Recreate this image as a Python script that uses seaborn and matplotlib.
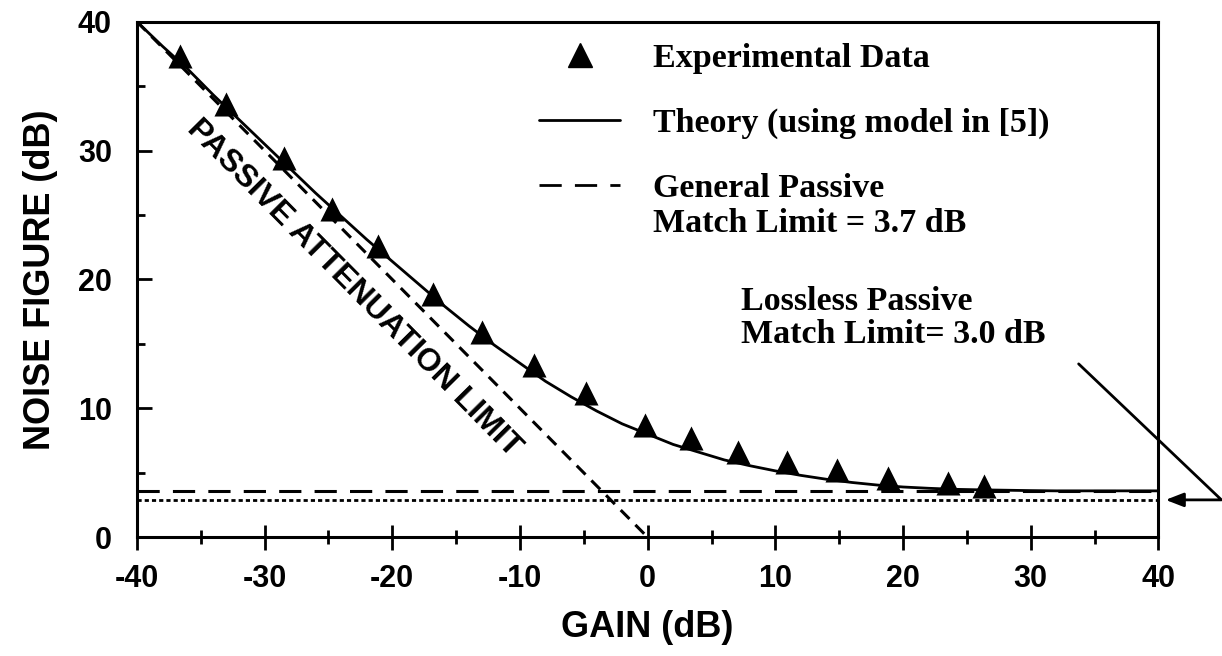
import numpy as np
import pandas as pd
import seaborn as sns
import matplotlib.pyplot as plt
from matplotlib.lines import Line2D
from matplotlib.font_manager import FontProperties

# experimental points (gain dB, noise figure dB)
exp_gain = [-36.6, -33.0, -28.5, -24.7, -21.1, -16.8, -13.0, -8.9, -4.8, -0.2,
            3.4, 7.1, 10.9, 14.8, 18.8, 23.5, 26.3]
exp_nf = [37.3, 33.6, 29.4, 25.5, 22.6, 18.9, 15.9, 13.4, 11.2, 8.7,
          7.7, 6.6, 5.8, 5.2, 4.6, 4.2, 4.0]

# theory curve, read every 2 dB
theory_gain = [-40, -38, -36, -34, -32, -30, -28, -26, -24, -22, -20, -18, -16, -14,
               -12, -10, -8, -6, -4, -2, 0, 2, 4, 6, 8, 10, 12, 14, 16, 18, 20,
               22, 24, 26, 28, 30, 32, 34, 36, 38, 40]
theory_nf = [40.0, 38.1, 36.3, 34.3, 32.4, 30.5, 28.6, 26.7, 24.9, 23.1, 21.4, 19.7,
             18.0, 16.4, 14.9, 13.5, 12.1, 10.9, 9.8, 8.8, 8.0, 7.2, 6.6, 6.0, 5.55,
             5.15, 4.8, 4.5, 4.25, 4.05, 3.9, 3.8, 3.72, 3.68, 3.65, 3.62, 3.6, 3.6,
             3.6, 3.6, 3.6]

# passive attenuation limit (NF = -gain)
atten_gain = [-40, 0]
atten_nf = [40, 0]

general_limit = 3.6
lossless_limit = 2.9

sns.set_theme(style="ticks")
plt.rcParams['font.family'] = ['Liberation Sans', 'DejaVu Sans']
plt.rcParams['lines.scale_dashes'] = False
plt.rcParams['axes.unicode_minus'] = False
for k in ['text.color', 'axes.labelcolor', 'xtick.color', 'ytick.color', 'axes.edgecolor']:
    plt.rcParams[k] = 'black'

serif = FontProperties(family='Liberation Serif', weight='bold', size=24.5)

fig, ax = plt.subplots(figsize=(12.22, 6.56), dpi=100)
fig.subplots_adjust(left=0.112, right=0.948, bottom=0.181, top=0.967)

theory = pd.DataFrame({'gain': theory_gain, 'nf': theory_nf})
sns.lineplot(data=theory, x='gain', y='nf', color='black', lw=2.0, ax=ax)
sns.lineplot(x=atten_gain, y=atten_nf, color='black', lw=2.2, ax=ax)
ax.lines[-1].set_dashes((9, 6))

ax.axhline(general_limit, color='black', lw=2.2, dashes=(16, 9.5))
ax.axhline(lossless_limit, color='black', lw=2.0, dashes=(3, 2.2))

sns.scatterplot(x=exp_gain, y=exp_nf, marker='^', s=300, color='black',
                edgecolor='black', linewidth=0, zorder=4, ax=ax)

ax.set_xlim(-40, 40)
ax.set_ylim(0, 40)
ax.set_xticks(range(-40, 41, 10))
ax.set_xticks(range(-35, 40, 10), minor=True)
ax.set_yticks(range(0, 41, 10))
ax.set_yticks(range(5, 40, 10), minor=True)

for s in ax.spines.values():
    s.set_visible(True)
    s.set_linewidth(2.2)
    s.set_color('black')

ax.tick_params(axis='x', which='major', direction='inout', length=18, width=2.0,
               pad=10, labelsize=22)
ax.tick_params(axis='x', which='minor', direction='inout', length=9.5, width=2.0)
ax.tick_params(axis='y', which='major', direction='in', length=11, width=2.0,
               pad=18, labelsize=22)
ax.tick_params(axis='y', which='minor', direction='in', length=5.5, width=2.0)
for lab in ax.get_xticklabels() + ax.get_yticklabels():
    lab.set_fontweight('bold')

ax.set_xlabel('GAIN (dB)', fontsize=26, fontweight='bold', labelpad=12)
ax.set_ylabel('NOISE FIGURE (dB)', fontsize=26, fontweight='bold', labelpad=14)

ax.text(-23.0, 19.3, 'PASSIVE ATTENUATION LIMIT', rotation=-45.3,
        rotation_mode='anchor', ha='center', va='center', fontsize=23,
        fontweight='bold')

handles = [
    Line2D([], [], ls='none', marker='^', ms=17, color='black'),
    Line2D([], [], color='black', lw=2.0),
    Line2D([], [], color='black', lw=2.0, dashes=(16, 9.5)),
]
labels = ['Experimental Data', 'Theory (using model in [5])', 'General Passive']
leg = ax.legend(handles, labels, loc='upper left', bbox_to_anchor=(0.38, 0.985),
                frameon=False, prop=serif, handlelength=2.4, handletextpad=0.95,
                labelspacing=1.0, borderaxespad=0)

# second line of the "General Passive" entry sits right under it
fig.canvas.draw()
bb = leg.get_texts()[2].get_window_extent()
W, H = fig.canvas.get_width_height()
fig.text(bb.x0 / W, (bb.y0 - 35) / H, 'Match Limit = 3.7 dB', ha='left', va='bottom',
         fontproperties=serif)

ax.text(7.3, 17.0, 'Lossless Passive\nMatch Limit= 3.0 dB', ha='left', va='center',
        fontproperties=serif, linespacing=1.1)
ax.annotate('', xy=(40.56, lossless_limit), xytext=(33.75, 13.45),
            arrowprops=dict(arrowstyle='-|>,head_length=0.9,head_width=0.35',
                            connectionstyle='angle,angleA=-43.6,angleB=0,rad=0',
                            color='black', lw=2.0, shrinkA=0, shrinkB=0),
            annotation_clip=False)

fig.savefig('out.png', dpi=100, facecolor='white')
